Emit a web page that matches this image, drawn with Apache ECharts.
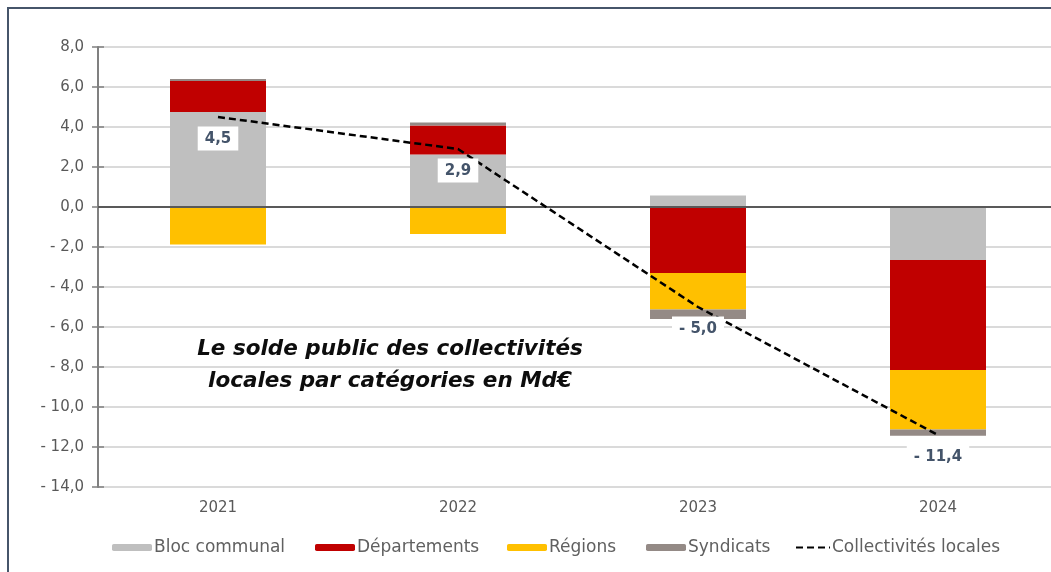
<!DOCTYPE html>
<html>
<head>
<meta charset="utf-8">
<script src="https://cdn.jsdelivr.net/npm/echarts@6/dist/echarts.min.js"></script>
<style>
html,body{margin:0;padding:0;background:#fff;}
#chart{width:1051px;height:572px;}
</style>
</head>
<body>
<div id="chart"></div>
<script>
// ---- data ----
const categories = ['2021', '2022', '2023', '2024'];
const blocCommunal = [4.75, 2.63, 0.57, -2.65];
const departements = [1.55, 1.45, -3.30, -5.50];
const regions = [-1.87, -1.35, -1.83, -2.97];
const syndicats = [0.10, 0.15, -0.47, -0.32];
const collectivites = [4.5, 2.9, -5.0, -11.4];
const yTicks = { min: -14, max: 8, interval: 2 };
const titleLines = ['Le solde public des collectivités', 'locales par catégories en Md€'];

const FONT = '"DejaVu Sans", sans-serif';
function fr(v, d) {
  const s = Math.abs(v).toFixed(d).replace('.', ',');
  return (v < -1e-9 ? '- ' : '') + s;
}

const chart = echarts.init(document.getElementById('chart'), null, { renderer: 'canvas' });

function barSeries(name, data, color) {
  return {
    name: name, type: 'bar', stack: 'total', data: data,
    barWidth: 96,
    itemStyle: { color: color },
    emphasis: { disabled: true },
    z: 2
  };
}

function legendAt(name, left, w) {
  return {
    data: [name], left: left, top: 534,
    itemWidth: w, itemHeight: 7,
    itemGap: 0,
    textStyle: { fontFamily: FONT, fontSize: 17, color: '#606060', padding: [0, 0, 0, -3] },
    selectedMode: false
  };
}

const option = {
  animation: false,
  backgroundColor: '#fff',
  grid: { left: 98, width: 960, top: 47, bottom: 85, containLabel: false, outerBoundsMode: 'none' },
  xAxis: {
    type: 'category', data: categories,
    axisLine: { show: false }, axisTick: { show: false },
    axisLabel: { fontFamily: FONT, fontSize: 15, color: '#595959', margin: 14 }
  },
  yAxis: [{
    type: 'value', min: yTicks.min, max: yTicks.max, interval: yTicks.interval,
    axisLine: { show: true, lineStyle: { color: '#808080', width: 2 } },
    axisTick: { show: true, inside: false, length: 6, lineStyle: { color: '#808080', width: 1.5 } },
    axisLabel: { fontFamily: FONT, fontSize: 15, color: '#595959', margin: 14, formatter: v => fr(v, 1) },
    splitLine: { show: true, lineStyle: { color: '#dadada', width: 2 } }
  }, {
    type: 'value', min: yTicks.min, max: yTicks.max, interval: yTicks.interval, position: 'left', offset: 0,
    axisLine: { show: false },
    axisTick: { show: true, inside: true, length: 6, lineStyle: { color: '#808080', width: 1.5 } },
    axisLabel: { show: false },
    splitLine: { show: false }
  }],
  legend: [
    legendAt('Bloc communal', 107, 40),
    legendAt('Départements', 310, 40),
    legendAt('Régions', 502, 40),
    legendAt('Syndicats', 641, 40),
    legendAt('Collectivités locales', 790, 34)
  ],
  series: [
    barSeries('Bloc communal', blocCommunal, '#bfbfbf'),
    barSeries('Départements', departements, '#c00000'),
    barSeries('Régions', regions, '#ffc000'),
    barSeries('Syndicats', syndicats, '#948a86'),
    {
      name: 'Collectivités locales', type: 'line', data: collectivites,
      symbol: 'circle', symbolSize: 1, showSymbol: true, z: 5,
      lineStyle: { color: '#000', width: 2.5, type: [7, 4] },
      itemStyle: { color: 'rgba(0,0,0,0)', borderWidth: 0 },
      label: {
        show: true, position: 'bottom', distance: 9,
        formatter: p => fr(p.value, 1),
        fontFamily: FONT, fontSize: 15, fontWeight: 'bold', color: '#44546a',
        backgroundColor: '#fff', padding: [5, 7, 4, 7]
      },
      markLine: {
        silent: true, symbol: ['none', 'none'],
        label: { show: false },
        lineStyle: { color: '#595959', width: 2, type: 'solid' },
        data: [{ yAxis: 0 }],
        z: 4
      },
      emphasis: { disabled: true }
    }
  ],
  graphic: [
    {
      type: 'rect', z: 100, silent: true,
      shape: { x: 8, y: 8, width: 1200, height: 800 },
      style: { fill: 'none', stroke: '#46556a', lineWidth: 2 }
    },
    {
      type: 'text', z: 100, silent: true,
      style: {
        x: 390, y: 365,
        text: titleLines.join('\n'),
        textAlign: 'center', textVerticalAlign: 'middle',
        fontFamily: FONT, fontSize: 21.5, fontWeight: 'bold', fontStyle: 'italic',
        lineHeight: 32, fill: '#0d0d0d'
      }
    }
  ]
};
chart.setOption(option);
</script>
</body>
</html>
